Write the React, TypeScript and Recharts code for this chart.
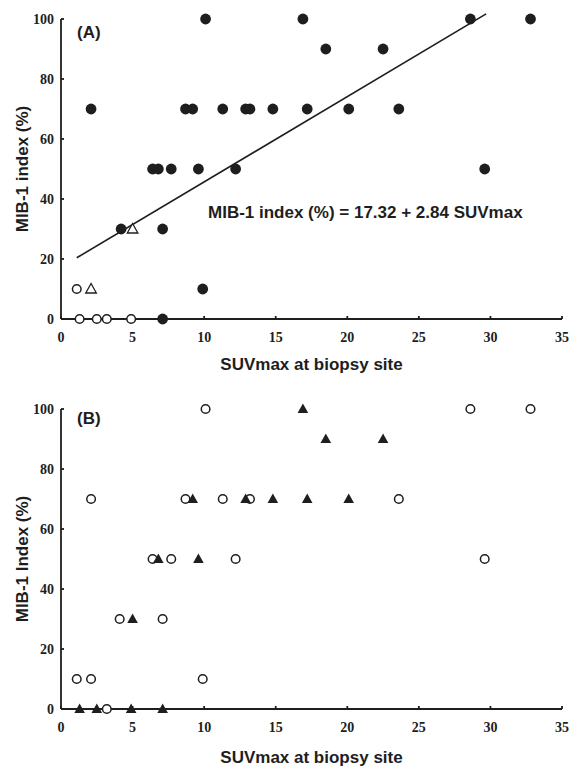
import React from 'react';
import { ScatterChart, Scatter, XAxis, YAxis, ReferenceLine, Label } from 'recharts';

const xTicks = [0, 5, 10, 15, 20, 25, 30, 35];
const yTicks = [0, 20, 40, 60, 80, 100];

// Panel A
const aFilledCircles: [number, number][] = [
  [10.1, 100], [16.9, 100], [28.6, 100], [32.8, 100],
  [18.5, 90], [22.5, 90],
  [2.1, 70], [8.7, 70], [9.2, 70], [11.3, 70], [12.9, 70], [13.2, 70], [14.8, 70], [17.2, 70], [20.1, 70], [23.6, 70],
  [6.4, 50], [6.8, 50], [7.7, 50], [9.6, 50], [12.2, 50], [29.6, 50],
  [4.2, 30], [7.1, 30], [9.9, 10], [7.1, 0],
];
const aOpenCircles: [number, number][] = [[1.1, 10], [1.3, 0], [2.5, 0], [3.2, 0], [4.9, 0]];
const aOpenTriangles: [number, number][] = [[5.0, 30], [2.1, 10]];
const regressionEnds: [number, number][] = [[1.1, 20.4], [29.7, 101.7]];

// Panel B
const bOpenCircles: [number, number][] = [
  [10.1, 100], [28.6, 100], [32.8, 100],
  [2.1, 70], [8.7, 70], [11.3, 70], [13.2, 70], [23.6, 70],
  [6.4, 50], [7.7, 50], [12.2, 50], [29.6, 50],
  [4.1, 30], [7.1, 30], [1.1, 10], [2.1, 10], [9.9, 10], [3.2, 0],
];
const bFilledTriangles: [number, number][] = [
  [16.9, 100], [18.5, 90], [22.5, 90],
  [9.2, 70], [12.9, 70], [14.8, 70], [17.2, 70], [20.1, 70],
  [6.8, 50], [9.6, 50], [5.0, 30],
  [1.3, 0], [2.5, 0], [4.9, 0], [7.1, 0],
];

const toPts = (arr: [number, number][]) => arr.map(([x, y]) => ({ x, y }));

const INK = '#1e1e1e';
const SANS = '"Liberation Sans", Arial, sans-serif';
const SERIF = '"Liberation Serif", "Times New Roman", serif';

const FilledCircle = (p: any) => <circle cx={p.cx} cy={p.cy} r={5.4} fill={INK} />;
const OpenCircle = (p: any) => <circle cx={p.cx} cy={p.cy} r={4.3} fill="#fff" stroke={INK} strokeWidth={1.5} />;
const triPath = (cx: number, cy: number) => `M${cx},${cy - 5.5} L${cx + 5.3},${cy + 4} L${cx - 5.3},${cy + 4} Z`;
const OpenTriangle = (p: any) => <path d={triPath(p.cx, p.cy)} fill="#fff" stroke={INK} strokeWidth={1.3} />;
const FilledTriangle = (p: any) => <path d={triPath(p.cx, p.cy)} fill={INK} />;

const tickStyle = { fontFamily: SERIF, fontWeight: 'bold', fontSize: 14, fill: INK };

const yTitle = (text: string) => (props: any) => {
  const vb = props.viewBox || { x: 0, y: 0, width: 0, height: 0 };
  const cx = 22;
  const cy = vb.y + vb.height / 2;
  return (
    <text x={cx} y={cy} transform={`rotate(-90 ${cx} ${cy})`} textAnchor="middle" dominantBaseline="central"
      fontFamily={SANS} fontWeight="bold" fontSize={17} fill={INK}>{text}</text>
  );
};

export default function App() {
  const axisProps = {
    stroke: INK,
    strokeWidth: 1.8,
  };
  return (
    <div style={{ position: 'absolute', left: 0, top: 0, width: 570, height: 766, background: '#fff' }}>
      <div style={{ position: 'absolute', left: 0, top: 0 }}>
        <ScatterChart width={570} height={390} margin={{ top: 19, right: 8, bottom: 0, left: 0 }}>
          <XAxis type="number" dataKey="x" domain={[0, 35]} ticks={xTicks} height={71}
            axisLine={axisProps} tickLine={axisProps} tickSize={-3} tickMargin={16} tick={tickStyle}
            allowDecimals={false}>
            <Label value="SUVmax at biopsy site" position="insideBottom" offset={20}
              fontFamily={SANS} fontWeight="bold" fontSize={17} fill={INK} />
          </XAxis>
          <YAxis type="number" dataKey="y" domain={[0, 100]} ticks={yTicks} width={61}
            axisLine={axisProps} tickLine={axisProps} tickSize={-3} tickMargin={10} tick={tickStyle}>
            <Label content={yTitle('MIB-1 index (%)')} />
          </YAxis>
          <ReferenceLine segment={toPts(regressionEnds)} ifOverflow="visible" stroke={INK} strokeWidth={1.6} />
          <Scatter data={toPts(aOpenCircles)} shape={OpenCircle} isAnimationActive={false} />
          <Scatter data={toPts(aOpenTriangles)} shape={OpenTriangle} isAnimationActive={false} />
          <Scatter data={toPts(aFilledCircles)} shape={FilledCircle} isAnimationActive={false} />
        </ScatterChart>
        <div style={{ position: 'absolute', left: 77, top: 22, fontFamily: SANS, fontWeight: 'bold', fontSize: 17, color: INK, lineHeight: '22px' }}>(A)</div>
        <div style={{ position: 'absolute', left: 208, top: 202, fontFamily: SANS, fontWeight: 'bold', fontSize: 17, color: INK, lineHeight: '22px', whiteSpace: 'nowrap' }}>
          MIB-1 index (%) = 17.32 + 2.84 SUVmax
        </div>
      </div>
      <div style={{ position: 'absolute', left: 0, top: 390 }}>
        <ScatterChart width={570} height={376} margin={{ top: 19, right: 8, bottom: 0, left: 0 }}>
          <XAxis type="number" dataKey="x" domain={[0, 35]} ticks={xTicks} height={57}
            axisLine={axisProps} tickLine={axisProps} tickSize={-3} tickMargin={16} tick={tickStyle}>
            <Label value="SUVmax at biopsy site" position="insideBottom" offset={3}
              fontFamily={SANS} fontWeight="bold" fontSize={17} fill={INK} />
          </XAxis>
          <YAxis type="number" dataKey="y" domain={[0, 100]} ticks={yTicks} width={61}
            axisLine={axisProps} tickLine={axisProps} tickSize={-3} tickMargin={10} tick={tickStyle}>
            <Label content={yTitle('MIB-1 Index (%)')} />
          </YAxis>
          <Scatter data={toPts(bOpenCircles)} shape={OpenCircle} isAnimationActive={false} />
          <Scatter data={toPts(bFilledTriangles)} shape={FilledTriangle} isAnimationActive={false} />
        </ScatterChart>
        <div style={{ position: 'absolute', left: 77, top: 18, fontFamily: SANS, fontWeight: 'bold', fontSize: 17, color: INK, lineHeight: '22px' }}>(B)</div>
      </div>
    </div>
  );
}
